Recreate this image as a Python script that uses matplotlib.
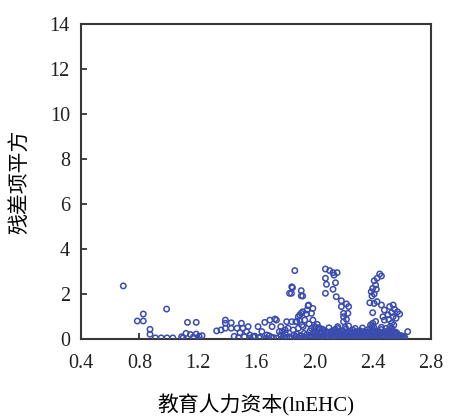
import matplotlib
matplotlib.use('Agg')
import matplotlib.pyplot as plt

# scattered points above the dense band
x_upper = [0.69, 0.827, 0.786, 0.827, 0.987, 0.873, 0.873, 0.91, 0.95, 0.99, 1.03,
           1.13, 1.19, 1.09, 1.12, 1.15, 1.17, 1.19, 1.21, 1.10, 1.33, 1.23,
           1.36, 1.39, 1.39, 1.39, 1.43, 1.43, 1.47, 1.50, 1.51, 1.49,
           1.546, 1.535, 1.558, 1.58, 1.614, 1.66, 1.695, 1.74, 1.71, 1.64, 1.675,
           1.77, 1.81, 1.845, 1.88, 1.90, 1.92, 1.83, 1.845, 1.91, 1.91, 1.96, 1.95,
           1.77, 1.80, 1.83, 1.73, 1.89, 1.91,
           1.866, 2.076, 2.105, 2.128, 2.156, 2.135, 2.076, 2.083, 2.145, 2.076, 2.128,
           1.85, 1.843, 1.92,
           2.15, 2.185, 2.185, 2.22, 2.235, 2.20, 2.20, 2.22, 2.20, 2.23,
           1.957, 1.99, 1.98, 1.945, 1.934, 1.964, 1.90, 1.873, 1.923, 1.99, 2.02,
           1.98, 2.037, 2.08, 2.137, 2.16,
           2.448, 2.46, 2.43, 2.41, 2.42, 2.40, 2.425, 2.39, 2.41, 2.395, 2.38, 2.41,
           2.43, 2.40,
           2.516, 2.54, 2.55, 2.57, 2.53, 2.505, 2.48, 2.46, 2.47, 2.48, 2.51, 2.54,
           2.585, 2.56, 2.53, 2.64,
           1.80, 1.78, 1.76, 1.82, 1.855, 1.89, 1.915]
y_upper = [2.36, 1.11, 0.80, 0.80, 1.33, 0.43, 0.21, 0.05, 0.05, 0.05, 0.05,
           0.74, 0.74, 0.10, 0.25, 0.20, 0.08, 0.22, 0.12, 0.05, 0.36, 0.15,
           0.40, 0.48, 0.70, 0.84, 0.72, 0.48, 0.48, 0.70, 0.48, 0.28,
           0.55, 0.33, 0.18, 0.10, 0.55, 0.74, 0.84, 0.84, 0.55, 0.33, 0.18,
           0.55, 0.77, 0.77, 0.77, 1.07, 1.21, 2.03, 2.32, 2.15, 1.92, 1.51, 1.29,
           0.18, 0.25, 0.10, 0.89, 0.99, 1.14,
           3.04, 3.11, 3.04, 2.95, 2.95, 2.84, 2.70, 2.43, 2.50, 2.03, 2.21,
           2.28, 2.03, 1.91,
           1.88, 1.70, 1.44, 1.56, 1.44, 1.14, 0.99, 0.87, 0.77, 1.14,
           1.48, 1.36, 1.14, 1.11, 0.84, 0.67, 0.84, 0.77, 0.55, 0.84, 0.65,
           0.47, 0.47, 0.33, 0.40, 0.47,
           2.89, 2.80, 2.70, 2.59, 2.40, 2.25, 2.21, 2.10, 2.00, 1.91, 1.61, 1.58,
           1.66, 1.17,
           1.44, 1.51, 1.32, 1.21, 1.17, 1.07, 1.29, 1.51, 0.99, 0.84, 0.87, 0.99,
           1.11, 0.92, 0.70, 0.33,
           0.40, 0.33, 0.33, 0.48, 0.40, 0.48, 0.62]

# dense band close to zero
x_band = [1.62, 1.67, 1.705, 1.74, 1.775, 1.81, 1.845, 1.87, 1.895, 1.92, 1.945,
          1.965, 1.985, 2.005, 2.025, 2.04, 2.06, 2.085, 2.10, 2.125, 2.14, 2.165,
          2.18, 2.205, 2.22, 2.245, 2.26, 2.28, 2.305, 2.32, 2.345, 2.36, 2.385,
          2.40, 2.425, 2.44, 2.465, 2.48, 2.505, 2.52, 2.545, 2.56, 2.585, 2.60, 2.62,
          1.86, 1.88, 1.905, 1.93, 1.95, 1.975, 1.995, 2.015, 2.035, 2.05, 2.07,
          2.09, 2.115, 2.13, 2.155, 2.17, 2.19, 2.21, 2.235, 2.25, 2.27, 2.29,
          2.31, 2.335, 2.35, 2.37, 2.39, 2.415, 2.43, 2.455, 2.47, 2.49, 2.515,
          2.53, 2.55, 2.575, 2.595, 2.61,
          1.97, 1.995, 2.02, 2.045, 2.07, 2.095, 2.12, 2.145, 2.17, 2.195, 2.215,
          2.24, 2.265, 2.29, 2.315, 2.34, 2.365, 2.385, 2.41, 2.435, 2.46, 2.485,
          2.51, 2.535, 2.555,
          2.005, 2.03, 2.21, 2.235, 2.385, 2.40, 2.42, 2.395, 2.41, 2.52, 2.545,
          2.53, 2.28, 2.33, 2.46, 2.00, 2.10, 2.16, 2.055, 2.49,
          1.98, 2.01, 2.035, 2.06, 2.08, 2.11, 2.135, 2.16, 2.185, 2.20, 2.23,
          2.255, 2.275, 2.30, 2.325, 2.355, 2.375, 2.395, 2.42, 2.445, 2.475,
          2.50, 2.525, 2.54, 2.565, 2.58, 2.605,
          2.015, 2.05, 2.085, 2.115, 2.15, 2.175, 2.225, 2.25, 2.285, 2.31, 2.335,
          2.355, 2.375, 2.405, 2.43, 2.45, 2.47, 2.495, 2.52, 2.545, 2.565,
          1.45, 1.48, 1.52, 1.56, 1.59, 1.63, 1.69, 1.72, 1.79, 1.83, 1.875, 1.91]
y_band = [0.06, 0.03, 0.08, 0.04, 0.02, 0.07, 0.03, 0.09, 0.05, 0.02, 0.08,
          0.04, 0.10, 0.03, 0.07, 0.02, 0.09, 0.05, 0.03, 0.08, 0.04, 0.06,
          0.02, 0.09, 0.05, 0.03, 0.07, 0.04, 0.10, 0.02, 0.06, 0.08, 0.03,
          0.05, 0.09, 0.02, 0.07, 0.04, 0.08, 0.03, 0.06, 0.05, 0.09, 0.03, 0.07,
          0.18, 0.22, 0.16, 0.25, 0.20, 0.17, 0.24, 0.19, 0.23, 0.15, 0.21,
          0.26, 0.18, 0.22, 0.17, 0.25, 0.20, 0.23, 0.16, 0.24, 0.19, 0.22,
          0.26, 0.18, 0.21, 0.25, 0.17, 0.23, 0.20, 0.26, 0.18, 0.22, 0.24,
          0.19, 0.21, 0.17, 0.15, 0.12,
          0.36, 0.31, 0.40, 0.33, 0.38, 0.30, 0.35, 0.42, 0.32, 0.37, 0.44,
          0.34, 0.39, 0.31, 0.36, 0.33, 0.41, 0.45, 0.38, 0.35, 0.42, 0.33,
          0.40, 0.37, 0.31,
          0.55, 0.50, 0.52, 0.58, 0.62, 0.70, 0.78, 0.55, 0.50, 0.56, 0.62,
          0.48, 0.47, 0.49, 0.52, 0.46, 0.50, 0.55, 0.44, 0.47,
          0.12, 0.14, 0.11, 0.13, 0.10, 0.14, 0.12, 0.11, 0.13, 0.15, 0.12,
          0.10, 0.14, 0.13, 0.11, 0.12, 0.14, 0.10, 0.13, 0.12, 0.11,
          0.14, 0.12, 0.13, 0.10, 0.11, 0.09,
          0.29, 0.27, 0.30, 0.28, 0.31, 0.29, 0.30, 0.27, 0.32, 0.29, 0.28,
          0.31, 0.30, 0.33, 0.29, 0.31, 0.30, 0.28, 0.32, 0.29, 0.27,
          0.12, 0.06, 0.10, 0.04, 0.13, 0.09, 0.14, 0.06, 0.12, 0.04, 0.10, 0.14]

plt.rcParams['font.family'] = ['Liberation Serif', 'Noto Sans CJK SC']

fig = plt.figure(figsize=(4.49, 4.18), dpi=100)
ax = fig.add_axes([0.1804, 0.189, 0.7796, 0.7536])

style = dict(s=15, facecolors='none', edgecolors='#3a4cae', linewidths=1.1)
ax.scatter(x_band, y_band, zorder=3, **style)
ax.scatter(x_upper, y_upper, zorder=3, **style)

ax.set_xlim(0.4, 2.8)
ax.set_ylim(0, 14)
ax.set_xticks([0.4, 0.8, 1.2, 1.6, 2.0, 2.4, 2.8])
ax.set_xticklabels(['0.4', '0.8', '1.2', '1.6', '2.0', '2.4', '2.8'])
ax.set_yticks(range(0, 15, 2))
ax.tick_params(direction='in', length=4, width=1.2, labelsize=14.5, pad=8, colors='#222222')
ax.tick_params(axis='x', pad=11)

for sp in ax.spines.values():
    sp.set_linewidth(1.5)
    sp.set_color('#383838')

ax.set_xlabel('教育人力资本(lnEHC)', fontsize=15, labelpad=15)
ax.set_ylabel('残差项平方', fontsize=15, labelpad=14)

plt.savefig('out.png', dpi=100)
